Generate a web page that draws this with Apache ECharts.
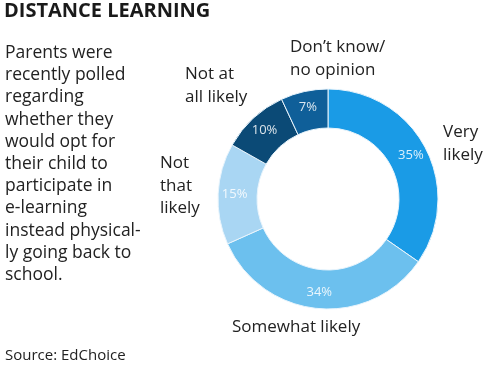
<!DOCTYPE html>
<html>
<head>
<meta charset="utf-8">
<script src="https://cdn.jsdelivr.net/npm/echarts@6/dist/echarts.min.js"></script>
<style>
html,body{margin:0;padding:0;background:#fff;}
#chart{width:487px;height:375px;}
</style>
</head>
<body>
<div id="chart"></div>
<script>
var categories = ['Very likely', 'Somewhat likely', 'Not that likely', 'Not at all likely', "Don’t know/ no opinion"];
var values = [35, 34, 15, 10, 7];
var colors = ['#1a9be6', '#6cc0ee', '#a9d6f3', '#0b4a76', '#0f5f99'];
// outer label lines for each category
var labelLines = [['Very', 'likely'], ['Somewhat likely'], ['Not', 'that', 'likely'], ['Not at', 'all likely'], ['Don’t know/', 'no opinion']];
var labelPos = [[443, 121], [232, 316], [160, 152], [185, 63], [290, 36]];
var introLines = ['Parents were', 'recently polled', 'regarding', 'whether they', 'would opt for', 'their child to', 'participate in', 'e-learning', 'instead physical-', 'ly going back to', 'school.'];

var font = '"Open Sans", sans-serif';
var graphics = [
    {type: 'text', left: 4, top: 1, style: {text: 'DISTANCE LEARNING', font: 'bold 20px ' + font, fill: '#1a1a1a'}},
    {type: 'text', left: 5, top: 42, style: {text: introLines.join('\n'), font: '17.5px ' + font, lineHeight: 22.2, fill: '#222'}},
    {type: 'text', left: 5, top: 348, style: {text: 'Source: EdChoice', font: '15px ' + font, fill: '#222'}}
];
labelLines.forEach(function (l, i) {
    graphics.push({type: 'text', left: labelPos[i][0], top: labelPos[i][1],
        style: {text: l.join('\n'), font: '17px ' + font, lineHeight: 22.5, fill: '#222'}});
});

var chart = echarts.init(document.getElementById('chart'));
chart.setOption({
    animation: false,
    color: colors,
    graphic: graphics,
    series: [{
        type: 'pie',
        center: [328, 199],
        radius: [71, 110],
        startAngle: 90,
        clockwise: true,
        itemStyle: {borderColor: '#e8f4fc', borderWidth: 1},
        label: {
            position: 'inside',
            formatter: '{c}%',
            color: 'rgba(255,255,255,0.85)',
            fontSize: 13,
            fontFamily: font
        },
        labelLine: {show: false},
        data: categories.map(function (c, i) { return {name: c, value: values[i]}; })
    }]
});
</script>
</body>
</html>
